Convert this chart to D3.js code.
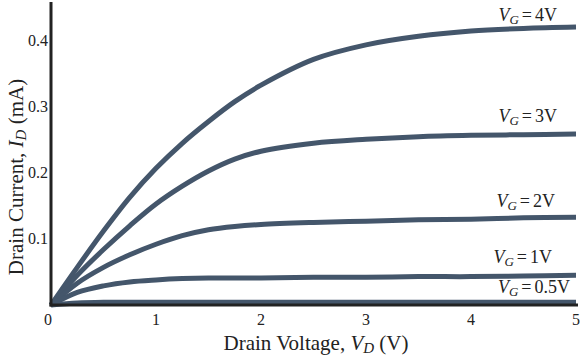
<!DOCTYPE html>
<html><head><meta charset="utf-8">
<script src="https://cdn.jsdelivr.net/npm/d3@7"></script>
<style>html,body{margin:0;padding:0;background:#fff;} svg{display:block;}</style>
</head><body>
<script>
const vd = [0, 0.25, 0.5, 0.75, 1, 1.25, 1.5, 1.75, 2, 2.5, 3, 3.5, 4, 4.5, 5];
const id_vg4  = [0, 0.057, 0.112, 0.163, 0.207, 0.245, 0.278, 0.308, 0.333, 0.372, 0.394, 0.407, 0.415, 0.419, 0.421];
const id_vg3  = [0, 0.045, 0.084, 0.120, 0.153, 0.180, 0.203, 0.221, 0.233, 0.245, 0.251, 0.255, 0.257, 0.258, 0.259];
const id_vg2  = [0, 0.033, 0.057, 0.076, 0.092, 0.105, 0.114, 0.119, 0.122, 0.125, 0.127, 0.129, 0.130, 0.132, 0.133];
const id_vg1  = [0, 0.019, 0.029, 0.035, 0.038, 0.040, 0.041, 0.041, 0.041, 0.042, 0.042, 0.043, 0.043, 0.044, 0.045];
const id_vg05 = [0, 0.003, 0.004, 0.004, 0.004, 0.004, 0.004, 0.004, 0.004, 0.004, 0.004, 0.004, 0.004, 0.004, 0.004];
const seriesNames = ["4V", "3V", "2V", "1V", "0.5V"];
const xTicks = [0, 1, 2, 3, 4, 5];
const yTicks = [0.1, 0.2, 0.3, 0.4];

const W = 583, H = 358;
const svg = d3.select("body").append("svg").attr("width", W).attr("height", H)
  .style("font-family", "'Liberation Serif', 'Times New Roman', serif");

const x = d3.scaleLinear().domain([0, 5]).range([51, 576]);
const y = d3.scaleLinear().domain([0, 0.459]).range([305, 2]);
const color = "#44566b";

const series = [id_vg4, id_vg3, id_vg2, id_vg1, id_vg05];
const labelPos = [[557, 21], [557, 122], [555, 207], [552, 263], [570, 293]];

const line = d3.line().x((d, i) => x(vd[i])).y(d => y(d)).curve(d3.curveCatmullRom.alpha(0.5));

series.forEach(s => {
  svg.append("path").attr("d", line(s)).attr("fill", "none")
    .attr("stroke", color).attr("stroke-width", 5).attr("stroke-linecap", "butt");
});

// axes
svg.append("line").attr("x1", x(0)).attr("x2", x(0)).attr("y1", y(0.459)).attr("y2", y(0) + 1.5)
  .attr("stroke", "#222").attr("stroke-width", 3);
svg.append("line").attr("x1", x(0) - 1.5).attr("x2", 578).attr("y1", y(0)).attr("y2", y(0))
  .attr("stroke", "#222").attr("stroke-width", 3);

// tick labels
svg.selectAll(".xt").data(xTicks).enter().append("text")
  .attr("x", d => d === 0 ? x(d) - 3 : x(d)).attr("y", 325).attr("text-anchor", "middle")
  .attr("font-size", 16).attr("fill", "#222").text(d => d);
svg.selectAll(".yt").data(yTicks).enter().append("text")
  .attr("x", 48).attr("y", d => y(d) + 5).attr("text-anchor", "end")
  .attr("font-size", 16).attr("fill", "#222").text(d => d);

// axis titles
const xt = svg.append("text").attr("x", 316).attr("y", 350).attr("text-anchor", "middle")
  .attr("font-size", 21).attr("fill", "#222");
xt.append("tspan").text("Drain Voltage, ");
xt.append("tspan").attr("font-style", "italic").text("V");
xt.append("tspan").attr("font-style", "italic").attr("font-size", 15).attr("dy", 3).text("D");
xt.append("tspan").attr("dy", -3).text(" (V)");

const yt = svg.append("text").attr("transform", "translate(23,177) rotate(-90)")
  .attr("text-anchor", "middle").attr("font-size", 21).attr("fill", "#222");
yt.append("tspan").text("Drain Current, ");
yt.append("tspan").attr("font-style", "italic").text("I");
yt.append("tspan").attr("font-style", "italic").attr("font-size", 15).attr("dy", 3).text("D");
yt.append("tspan").attr("dy", -3).text(" (mA)");

// curve labels
seriesNames.forEach((n, i) => {
  const t = svg.append("text").attr("x", labelPos[i][0]).attr("y", labelPos[i][1])
    .attr("text-anchor", "end").attr("font-size", 18).attr("fill", "#222");
  t.append("tspan").attr("font-style", "italic").text("V");
  t.append("tspan").attr("font-style", "italic").attr("font-size", 13).attr("dy", 3).text("G");
  t.append("tspan").attr("dy", -3).attr("dx", 3).text("=");
  t.append("tspan").attr("dx", 3).text(n);
});
</script>
</body></html>
